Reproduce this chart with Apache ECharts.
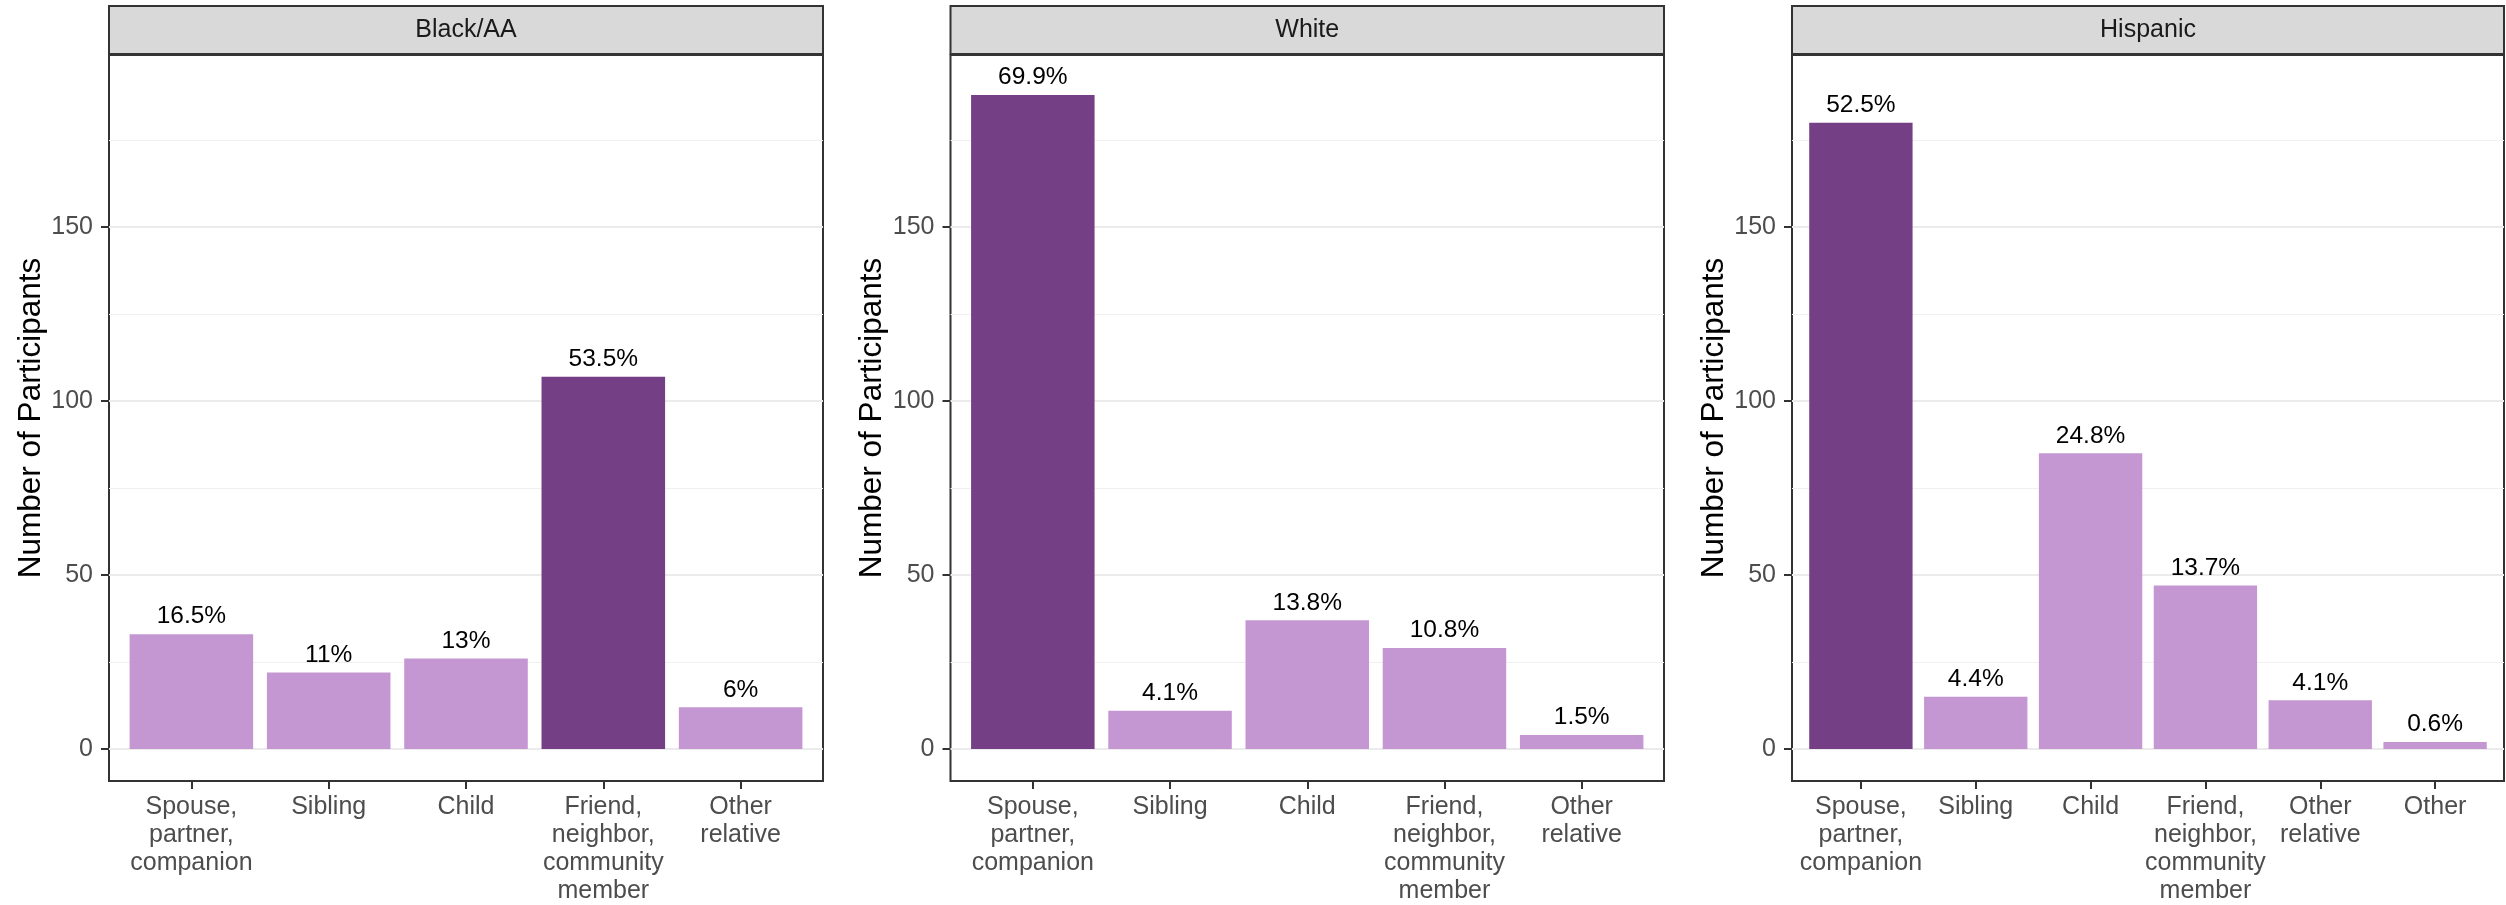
<!DOCTYPE html>
<html><head><meta charset="utf-8">
<script src="https://cdn.jsdelivr.net/npm/echarts@6/dist/echarts.min.js"></script>
<style>html,body{margin:0;padding:0;background:#fff}#c{width:2506px;height:905px}</style>
</head><body><div id="c"></div>
<script>
// ---- data ----
const panelNames = ['Black/AA', 'White', 'Hispanic'];
const catsBlack = ['Spouse,\npartner,\ncompanion', 'Sibling', 'Child', 'Friend,\nneighbor,\ncommunity\nmember', 'Other\nrelative'];
const catsWhite = ['Spouse,\npartner,\ncompanion', 'Sibling', 'Child', 'Friend,\nneighbor,\ncommunity\nmember', 'Other\nrelative'];
const catsHispanic = ['Spouse,\npartner,\ncompanion', 'Sibling', 'Child', 'Friend,\nneighbor,\ncommunity\nmember', 'Other\nrelative', 'Other'];
const countsBlack = [33, 22, 26, 107, 12];
const countsWhite = [188, 11, 37, 29, 4];
const countsHispanic = [180, 15, 85, 47, 14, 2];
const pctBlack = ['16.5%', '11%', '13%', '53.5%', '6%'];
const pctWhite = ['69.9%', '4.1%', '13.8%', '10.8%', '1.5%'];
const pctHispanic = ['52.5%', '4.4%', '24.8%', '13.7%', '4.1%', '0.6%'];
const yTickValues = [0, 50, 100, 150];
const yGridValues = [0, 25, 50, 75, 100, 125, 150, 175];
const yTitle = 'Number of Participants';

// ---- layout / style ----
const FONT = 'Liberation Sans, Arial, Helvetica, sans-serif';
const LIGHT = '#C497D3';
const DARK = '#753F85';
const TOP = 55, HEIGHT = 728;
const layout = [{ left: 109, width: 714 }, { left: 950.5, width: 713.5 }, { left: 1792, width: 712 }];
const YMIN = -9.2, YMAX = 199.5;

const panels = [
  { name: panelNames[0], cats: catsBlack, counts: countsBlack, pct: pctBlack },
  { name: panelNames[1], cats: catsWhite, counts: countsWhite, pct: pctWhite },
  { name: panelNames[2], cats: catsHispanic, counts: countsHispanic, pct: pctHispanic }
];

const grid = [], xAxis = [], yAxis = [], series = [], graphic = [];
panels.forEach((p, i) => {
  const L = layout[i];
  const n = p.cats.length;
  const unit = L.width / (n + 0.2);
  grid.push({
    left: L.left, top: TOP, width: L.width, height: HEIGHT,
    show: true, backgroundColor: '#fff', borderColor: '#333333', borderWidth: 2
  });
  const idx = p.cats.map((_, k) => k + 1);
  xAxis.push({
    type: 'value', gridIndex: i, min: 0.4, max: n + 0.6, position: 'bottom',
    axisLine: { show: false, onZero: false },
    splitLine: { show: false },
    axisTick: { show: true, inside: false, customValues: idx, length: 8, lineStyle: { color: '#333333', width: 2 } },
    axisLabel: {
      customValues: idx, margin: 12,
      formatter: v => p.cats[Math.round(v) - 1] || '',
      color: '#4D4D4D', fontSize: 25, lineHeight: 28, fontFamily: FONT, align: 'center'
    }
  });
  yAxis.push({
    type: 'value', gridIndex: i, min: YMIN, max: YMAX, position: 'left',
    name: yTitle, nameLocation: 'middle', nameGap: 62,
    nameTextStyle: { color: '#000', fontSize: 31.5, fontFamily: FONT },
    axisLine: { show: false, onZero: false },
    splitLine: { show: false },
    axisTick: { show: true, inside: false, customValues: yTickValues, length: 8, lineStyle: { color: '#333333', width: 2 } },
    axisLabel: { customValues: yTickValues, margin: 16, color: '#4D4D4D', fontSize: 25, fontFamily: FONT }
  });
  const maxV = Math.max(...p.counts);
  series.push({
    type: 'bar', xAxisIndex: i, yAxisIndex: i, z: 2,
    barWidth: 0.9 * unit,
    data: p.counts.map((v, k) => ({
      value: [k + 1, v],
      itemStyle: { color: v === maxV ? DARK : LIGHT }
    })),
    label: {
      show: true, position: 'top', distance: 5,
      formatter: prm => p.pct[prm.dataIndex],
      color: '#000', fontSize: 24.5, fontFamily: FONT
    },
    markLine: {
      z: 1, silent: true, symbol: 'none', animation: false,
      label: { show: false }, emphasis: { disabled: true },
      data: yGridValues.map(v => ({
        yAxis: v,
        lineStyle: { type: 'solid', color: v % 50 === 0 ? '#EBEBEB' : '#F0F0F0', width: v % 50 === 0 ? 2.2 : 1.1 }
      }))
    }
  });
  // facet strip
  graphic.push({
    type: 'rect', z: 10,
    shape: { x: L.left, y: 6, width: L.width, height: 48 },
    style: { fill: '#D9D9D9', stroke: '#333333', lineWidth: 2 }
  });
  graphic.push({
    type: 'text', z: 11, x: L.left + L.width / 2, y: 30,
    style: { text: p.name, fill: '#1A1A1A', font: '25px ' + FONT, textAlign: 'center', textVerticalAlign: 'middle' }
  });
});

const chart = echarts.init(document.getElementById('c'), null, { renderer: 'canvas' });
chart.setOption({
  animation: false,
  backgroundColor: '#fff',
  grid, xAxis, yAxis, series, graphic
});
</script></body></html>
